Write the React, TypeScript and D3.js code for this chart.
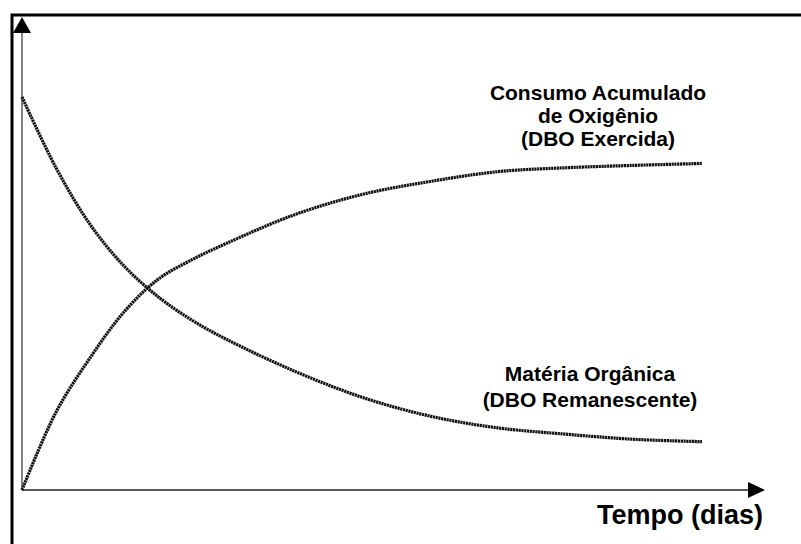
import React, { useRef, useEffect } from 'react';
import * as d3 from 'd3';

// time in days
const days = [0, 1, 2, 3, 4, 5, 6, 8, 10, 12, 14, 16, 18, 20];
// Matéria Orgânica (DBO Remanescente), % of initial
const remaining = [100, 82, 67.6, 57, 49.2, 43.2, 38.4, 30.3, 23.6, 18.8, 15.8, 14.2, 12.9, 12.3];
// Consumo Acumulado de Oxigênio (DBO Exercida)
const exerted = [0, 19.8, 33.6, 45.3, 53.6, 58.6, 62.7, 70, 75.2, 78.5, 81, 82, 82.6, 83.1];

const labelExerted = ['Consumo Acumulado', 'de Oxigênio', '(DBO Exercida)'];
const labelRemaining = ['Matéria Orgânica', '(DBO Remanescente)'];
const xTitle = 'Tempo (dias)';

const W = 801;
const H = 544;

const App: React.FC = () => {
  const ref = useRef<SVGSVGElement | null>(null);

  useEffect(() => {
    if (!ref.current) return;
    const svg = d3.select(ref.current);
    svg.selectAll('*').remove();

    const origin = { x: 22, y: 490 };
    const x = d3.scaleLinear().domain([0, 20]).range([origin.x, 702]);
    const y = d3.scaleLinear().domain([0, 100]).range([origin.y, 97]);

    // frame
    svg
      .append('rect')
      .attr('x', 12)
      .attr('y', 15)
      .attr('width', W)
      .attr('height', H)
      .attr('fill', 'none')
      .attr('stroke', '#000')
      .attr('stroke-width', 3);

    // axes
    svg
      .append('line')
      .attr('x1', origin.x)
      .attr('y1', origin.y)
      .attr('x2', origin.x)
      .attr('y2', 30)
      .attr('stroke', '#333')
      .attr('stroke-width', 1.2);
    svg
      .append('path')
      .attr('d', `M${origin.x},17 L${origin.x - 9},33 L${origin.x + 9},33 Z`)
      .attr('fill', '#000');
    svg
      .append('line')
      .attr('x1', origin.x)
      .attr('y1', origin.y)
      .attr('x2', 750)
      .attr('y2', origin.y)
      .attr('stroke', '#222')
      .attr('stroke-width', 1.4);
    svg
      .append('path')
      .attr('d', `M765,${origin.y} L748,${origin.y - 8} L748,${origin.y + 8} Z`)
      .attr('fill', '#000');

    const line = d3
      .line<number>()
      .x((_, i) => x(days[i]))
      .y((d) => y(d))
      .curve(d3.curveCatmullRom.alpha(0.5));

    [remaining, exerted].forEach((series) => {
      svg
        .append('path')
        .datum(series)
        .attr('fill', 'none')
        .attr('stroke', '#111')
        .attr('stroke-width', 3.2)
        .attr('stroke-dasharray', '2.2,0.6')
        .attr('d', line);
    });

    const font = 'Liberation Sans, Arial, sans-serif';
    const addLabel = (lines: string[], cx: number, y0: number, dy: number) => {
      lines.forEach((t, i) => {
        svg
          .append('text')
          .attr('x', cx)
          .attr('y', y0 + i * dy)
          .attr('text-anchor', 'middle')
          .attr('font-family', font)
          .attr('font-weight', 'bold')
          .attr('font-size', 21)
          .attr('fill', '#000')
          .text(t);
      });
    };
    addLabel(labelExerted, 598, 100, 23);
    addLabel(labelRemaining, 590, 381, 26);

    svg
      .append('text')
      .attr('x', 763)
      .attr('y', 524)
      .attr('text-anchor', 'end')
      .attr('font-family', font)
      .attr('font-weight', 'bold')
      .attr('font-size', 27)
      .attr('fill', '#000')
      .text(xTitle);
  }, []);

  return (
    <svg
      ref={ref}
      width={W}
      height={H}
      style={{ position: 'absolute', left: 0, top: 0, background: '#fff' }}
    />
  );
};

export default App;
